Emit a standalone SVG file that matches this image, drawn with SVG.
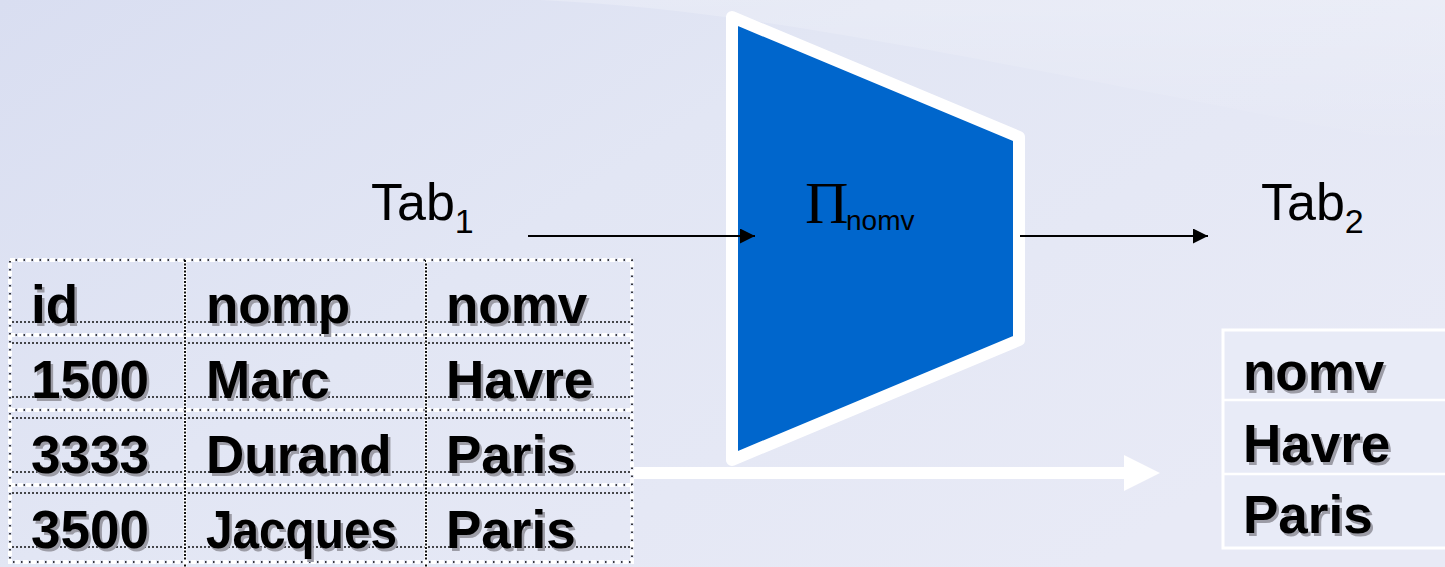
<svg xmlns="http://www.w3.org/2000/svg" xmlns:xlink="http://www.w3.org/1999/xlink" width="1445" height="567" viewBox="0 0 1445 567">
  <defs>
    <linearGradient id="bg" x1="0" y1="0" x2="1" y2="0.6">
      <stop offset="0" stop-color="#d9def1"/>
      <stop offset="0.45" stop-color="#e2e6f4"/>
      <stop offset="1" stop-color="#e8eaf6"/>
    </linearGradient>
    <linearGradient id="sheen" x1="0" y1="0" x2="0" y2="1">
      <stop offset="0" stop-color="#ffffff" stop-opacity="0.22"/>
      <stop offset="1" stop-color="#ffffff" stop-opacity="0"/>
    </linearGradient>
    <marker id="head" viewBox="0 0 10 10" refX="10" refY="5" markerWidth="7.5" markerHeight="7.5" markerUnits="strokeWidth" orient="auto">
      <path d="M0,0 L10,5 L0,10 Z" fill="#000"/>
    </marker>
    <style>
      .cell { font-family: "Liberation Sans", Arial, sans-serif; font-weight: bold; font-size: 53px; }
      .lbl { font-family: "Liberation Sans", Arial, sans-serif; font-size: 52px; fill: #000; }
      .sub { font-size: 34px; }
      .pi { font-family: "Liberation Serif", "Times New Roman", serif; font-size: 60px; fill: #000; }
      .pisub { font-family: "Liberation Sans", Arial, sans-serif; font-size: 28px; fill: #000; }
      .border-w { fill: none; stroke: #ffffff; stroke-width: 4; stroke-dasharray: 5 3; }
      .border-k { fill: none; stroke: #000; stroke-width: 1.5; stroke-dasharray: 1.5 6.5; stroke-dashoffset: -5.5; }
      .cellline { stroke: #111; stroke-width: 1.5; stroke-dasharray: 2 2; }
      .vdiv-w { stroke: #ffffff; stroke-width: 3; }
      .vdiv-k { stroke: #111; stroke-width: 2; stroke-dasharray: 2 1.5; }
      .conn { stroke: #000; stroke-width: 2; fill: none; }
      .res { stroke: #ffffff; fill: none; }
    </style>
    <!-- cell texts of the source relation, reused for shadow and face -->
    <g id="tab1-text" class="cell">
      <text x="31" y="323">id</text>
      <text x="206" y="323">nomp</text>
      <text x="446" y="323">nomv</text>
      <text x="31" y="398">1500</text>
      <text x="206" y="398">Marc</text>
      <text x="446" y="398">Havre</text>
      <text x="31" y="473">3333</text>
      <text x="206" y="473">Durand</text>
      <text x="446" y="473">Paris</text>
      <text x="31" y="548">3500</text>
      <text x="206" y="548" textLength="191" lengthAdjust="spacingAndGlyphs">Jacques</text>
      <text x="446" y="548">Paris</text>
    </g>
    <g id="tab2-text" class="cell">
      <text x="1243" y="390">nomv</text>
      <text x="1243" y="462">Havre</text>
      <text x="1243" y="533">Paris</text>
    </g>
  </defs>

  <!-- backdrop -->
  <g id="background">
    <rect x="0" y="0" width="1445" height="567" fill="url(#bg)"/>
    <path d="M540,0 C760,10 980,60 1445,150 L1445,0 Z" fill="url(#sheen)"/>
  </g>

  <!-- projection operator -->
  <g id="projection">
    <polygon points="732,17 1019,137 1019,340 732,460" fill="#0066cc" stroke="#ffffff" stroke-width="12" stroke-linejoin="round"/>
    <text class="pi" x="805" y="223">Π</text>
    <text class="pisub" x="846" y="230">nomv</text>
  </g>

  <!-- relation labels -->
  <g id="label-tab1">
    <text class="lbl" x="371" y="220">Tab<tspan class="sub" dy="13">1</tspan></text>
  </g>
  <g id="label-tab2">
    <text class="lbl" x="1261" y="220">Tab<tspan class="sub" dy="13">2</tspan></text>
  </g>

  <!-- source relation Tab1 -->
  <g id="tab1">
    <g id="tab1-grid">
      <!-- cell borders (dotted) -->
      <g class="cellline">
        <line x1="12" y1="322" x2="630" y2="322"/>
        <line x1="12" y1="343" x2="630" y2="343"/>
        <line x1="12" y1="397" x2="630" y2="397"/>
        <line x1="12" y1="418" x2="630" y2="418"/>
        <line x1="12" y1="472" x2="630" y2="472"/>
        <line x1="12" y1="493" x2="630" y2="493"/>
        <line x1="12" y1="547" x2="630" y2="547"/>
      </g>
      <!-- row separators -->
      <g>
        <path class="border-w" d="M10,335 H632 M10,410 H632 M10,485 H632" stroke-width="2.5"/>
        <path class="border-k" d="M10,335 H632 M10,410 H632 M10,485 H632"/>
      </g>
      <!-- column dividers -->
      <path class="vdiv-w" d="M185,260 V567 M426,260 V567"/>
      <path class="vdiv-k" d="M185,260 V567 M426,260 V567"/>
      <!-- outer frame -->
      <rect class="border-w" x="10" y="260" width="622" height="302"/>
      <rect class="border-k" x="10" y="260" width="622" height="302"/>
    </g>
    <use xlink:href="#tab1-text" href="#tab1-text" fill="#9c9ca6" transform="translate(2.5 2.5)"/>
    <use xlink:href="#tab1-text" href="#tab1-text" fill="#000000"/>
  </g>

  <!-- result relation Tab2 -->
  <g id="tab2">
    <rect x="1223" y="330" width="240" height="218" fill="#e8ebf7" stroke="#ffffff" stroke-width="3"/>
    <path d="M1223,400 H1445 M1223,474 H1445" stroke="#ffffff" stroke-width="2.5"/>
    <use xlink:href="#tab2-text" href="#tab2-text" fill="#9c9ca6" transform="translate(2.5 2.5)"/>
    <use xlink:href="#tab2-text" href="#tab2-text" fill="#000000"/>
  </g>

  <!-- connectors -->
  <g id="connectors">
    <line class="conn" x1="528" y1="236" x2="755" y2="236" marker-end="url(#head)"/>
    <line class="conn" x1="1020" y1="236" x2="1208" y2="236" marker-end="url(#head)"/>
    <g id="result-arrow">
      <line class="res" x1="634" y1="473" x2="1125" y2="473" stroke-width="12"/>
      <polygon points="1124,455 1160,473 1124,491" fill="#ffffff"/>
    </g>
  </g>
</svg>
